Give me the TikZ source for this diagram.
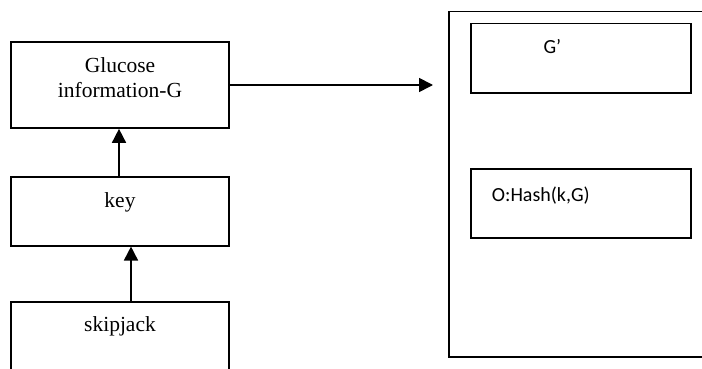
\documentclass[tikz,border=0pt]{standalone}
\usepackage{fontspec}
\setmainfont{Liberation Serif}
\newfontfamily\calibri{Carlito}
\usetikzlibrary{arrows.meta}
\begin{document}
\begin{tikzpicture}[x=1pt,y=-1pt,
  box/.style={draw=black,line width=1.7pt,fill=none,inner sep=0pt,rectangle},
  serif/.style={inner sep=0pt,anchor=base,font=\fontsize{21.5}{25}\selectfont},
  sans/.style={inner sep=0pt,anchor=base west,font=\calibri\fontsize{20}{24}\selectfont},
  flow/.style={line width=1.7pt,-{Triangle[length=14pt,width=14pt]}}]
\clip (0,0) rectangle (702,369);
\fill[white] (0,0) rectangle (702,369);

% left column
\node[box,minimum width=218pt,minimum height=86pt] (glu) at (120,85) {};
\node[box,minimum width=218pt,minimum height=69pt] (key) at (120,211.2) {};
\node[box,minimum width=218pt,minimum height=100pt] (skip) at (120,352) {};

\node[serif] (glut1) at (120,72.5) {Glucose};
\node[serif] (glut2) at (120,97) {information-G};
\node[serif] (keyt) at (120,207) {key};
\node[serif] (skipt) at (120,331) {skipjack};

% right container
\node[box,minimum width=270pt,minimum height=345.3pt] (out) at (584.3,184.3) {};
\node[box,minimum width=220.3pt,minimum height=69.3pt] (gp) at (580.8,58.3) {};
\node[box,minimum width=220.3pt,minimum height=69pt] (hash) at (580.8,203.8) {};

\node[sans] (gpt) at (543.3,54) {G’};
\node[sans] (hasht) at (491.7,201.7) {O:Hash(k,G)};

% connectors
\coordinate (tip) at (433,85);
\draw[flow] (glu.east) -- (tip);
\draw[flow] ([xshift=-1pt]key.north) -- ([xshift=-1pt]glu.south);
\draw[flow] ([xshift=11pt]skip.north) -- ([xshift=11pt]key.south);
\end{tikzpicture}
\end{document}
